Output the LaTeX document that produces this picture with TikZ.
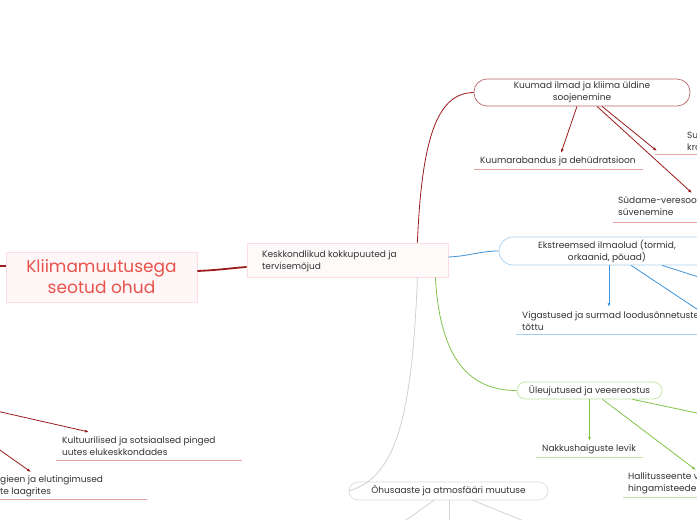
\documentclass[tikz,border=0pt]{standalone}
\usepackage{fontspec}
\setmainfont{Poppins}
\usetikzlibrary{arrows.meta}
\definecolor{txt}{HTML}{333333}
\definecolor{rootred}{HTML}{E8534B}
\definecolor{rootfill}{HTML}{FFF6F7}
\definecolor{rootline}{HTML}{FDDDE3}
\definecolor{dred}{HTML}{9B1C1C}
\definecolor{redbox}{HTML}{B96B6B}
\definecolor{redul}{HTML}{E3A3A3}
\definecolor{blueone}{HTML}{3F93D9}
\definecolor{bluebox}{HTML}{A9D0F0}
\definecolor{greenone}{HTML}{82C44A}
\definecolor{greenbox}{HTML}{BFE3A1}
\definecolor{grayone}{HTML}{D2D2D2}
\definecolor{graybox}{HTML}{DCDCDC}
\begin{document}
\begin{tikzpicture}[x=1pt,y=-1pt,
  every node/.style={text=txt, font=\fontsize{9}{12}\selectfont, inner sep=0pt},
  rootbox/.style={draw=rootline, fill=rootfill, line width=0.8pt, minimum width=191pt, minimum height=50pt, align=center, text=rootred, font=\fontsize{17}{21}\selectfont},
  mainbox/.style={draw=rootline, fill=rootfill!60, line width=0.8pt, minimum width=201pt, minimum height=34pt},
  topic/.style={draw=#1, fill=white, line width=0.7pt, align=center},
  leaf/.style={anchor=west, align=left},
  ul/.style={draw=#1, line width=0.8pt},
  thick link/.style={draw=dred, line width=1.8pt},
  link/.style={draw=#1, line width=0.8pt},
  arr/.style={draw=#1, line width=0.8pt, -{Latex[length=4pt,width=3pt]}}
]
\useasboundingbox (0,0) rectangle (697,520);
\fill[white] (0,0) rectangle (697,520);

% root and central node
\node[rootbox] (root) at (101.5,277) {Kliimamuutusega\\seotud ohud};
\node[mainbox] (env) at (347.5,260) {};
\node[leaf] (envtext) at (262,261) {Keskkondlikud kokkupuuted ja\\tervisemõjud};
\coordinate (offL0) at (-20,266);
\draw[thick link] (offL0) -- ([yshift=11pt]root.west);
\draw[thick link] ([yshift=6pt]root.east) .. controls (220,270) and (232,268) .. ([yshift=-7pt]env.west);

% topic nodes
\node[topic=redbox, minimum width=216pt, minimum height=27pt, rounded corners=13pt] (hot) at (582,92.5) {Kuumad ilmad ja kliima üldine\\soojenemine};
\node[topic=bluebox, minimum width=216pt, minimum height=28pt, rounded corners=14pt] (ext) at (607,251) {Ekstreemsed ilmaolud (tormid,\\orkaanid, põuad)};
\node[topic=greenbox, minimum width=145pt, minimum height=17pt, rounded corners=8.5pt] (flood) at (589.5,390.5) {Üleujutused ja veeereostus};
\node[topic=graybox, minimum width=199pt, minimum height=18pt, rounded corners=9pt] (air) at (448.5,491) {Õhusaaste ja atmosfääri muutuse};

% curved branches
\draw[link=dred] ([xshift=-31pt]env.north east) .. controls (422,130) and (440,93) .. (hot.west);
\draw[link=blueone] ([yshift=3pt]env.east) .. controls (470,256) and (480,251) .. (ext.west);
\draw[link=greenone] ([xshift=-13pt]env.south east) .. controls (440,360) and (470,390.5) .. (flood.west);
\draw[link=grayone] ([xshift=-31pt]env.south east) .. controls (412,420) and (395,478) .. (air.west);

% red leaves
\node[leaf] (heat) at (480,161) {Kuumarabandus ja dehüdratsioon};
\draw[ul=redul] (474,169) -- (643,169);
\node[leaf] (sur) at (687,141) {Suurenenud\\kroonilised};
\draw[ul=redul] (655,154) -- (700,154);
\node[leaf] (heart) at (618,206.5) {Südame-veresoonkonna haiguste\\süvenemine};
\draw[ul=redul] (613,222) -- (700,222);
\draw[arr=dred] ([xshift=-5pt]hot.south) -- (561,153);
\draw[arr=dred] ([xshift=20pt]hot.south) -- ([xshift=-30pt,yshift=-10pt]sur.west);
\draw[arr=dred] ([xshift=15pt]hot.south) -- (692,193);

% blue leaves
\node[leaf] (inj) at (522,321.5) {Vigastused ja surmad loodusõnnetuste\\tõttu};
\draw[ul=bluebox] (516,334) -- (700,334);
\coordinate (offB1) at (730,331);
\coordinate (offB2) at (730,287);
\draw[arr=blueone] ([xshift=2pt]ext.south) -- (609,307);
\draw[link=blueone] ([xshift=24pt]ext.south) -- (offB1);
\draw[link=blueone] ([xshift=55pt]ext.south) -- (offB2);

% green leaves
\node[leaf] (inf) at (542,449) {Nakkushaiguste levik};
\draw[ul=greenbox] (536,457) -- (643,457);
\node[leaf] (mold) at (628,483.5) {Hallitusseente vohamine ja\\hingamisteede haigused};
\draw[ul=greenbox] (623,497) -- (700,497);
\coordinate (offG1) at (730,420);
\draw[arr=greenone] (flood.south) -- (589.5,441);
\draw[arr=greenone] ([xshift=13pt]flood.south) -- (696,470);
\draw[link=greenone] ([xshift=43pt]flood.south) -- (offG1);

% gray branches
\coordinate (offA1) at (392,530);
\coordinate (offA2) at (449,535);
\coordinate (offA3) at (546,530);
\draw[link=grayone] ([xshift=-14.5pt]air.south) -- (offA1);
\draw[link=grayone] ([xshift=0.5pt]air.south) -- (offA2);
\draw[link=grayone] ([xshift=24.5pt]air.south) -- (offA3);

% left leaves
\node[leaf] (cult) at (62,446.5) {Kultuurilised ja sotsiaalsed pinged\\uutes elukeskkondades};
\draw[ul=redul] (56,460) -- (242,460);
\node[leaf] (hyg) at (0,486.5) {gieen ja elutingimused\\te laagrites};
\draw[ul=redul] (-5,499) -- (147,499);
\coordinate (offL1) at (-30,405);
\coordinate (offL2) at (-20,436);
\draw[arr=dred] (offL1) -- (89,432);
\draw[arr=dred] (offL2) -- (31,472);
\end{tikzpicture}
\end{document}
